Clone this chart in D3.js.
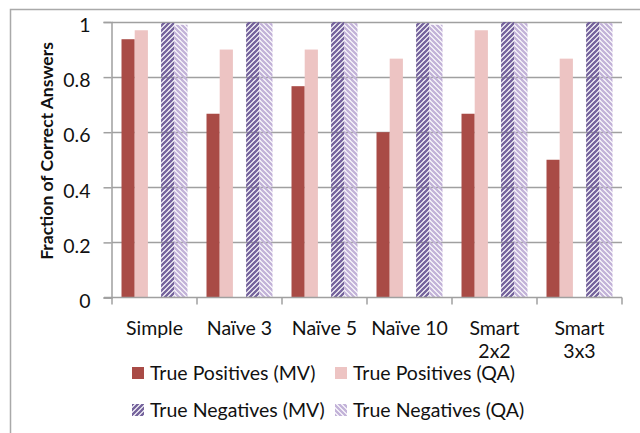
<!DOCTYPE html>
<html>
<head>
<meta charset="utf-8">
<script src="https://cdn.jsdelivr.net/npm/d3@7"></script>
<style>
  body { margin: 0; background: #fff; }
  svg text { font-family: Lato, "Open Sans", sans-serif; fill: #111; }
</style>
</head>
<body>
<div id="chart"></div>
<script>
// categories along x (\n = line break)
var categories = ["Simple", "Naïve 3", "Naïve 5", "Naïve 10", "Smart\n2x2", "Smart\n3x3"];

// series values
var tp_mv = [0.9375, 0.667, 0.767, 0.6, 0.667, 0.5];
var tp_qa = [0.97, 0.9, 0.9, 0.867, 0.97, 0.867];
var tn_mv = [0.997, 1, 1, 0.996, 1, 1];
var tn_qa = [0.99, 0.996, 0.996, 0.99, 0.996, 0.996];

var series_names = ["True Positives (MV)", "True Positives (QA)", "True Negatives (MV)", "True Negatives (QA)"];
var y_ticks = [0, 0.2, 0.4, 0.6, 0.8, 1];

var width = 640, height = 433;
var margin = {left: 112, right: 18, top: 22, bottom: 135};

var svg = d3.select('#chart')
  .append('svg')
  .attr('width', width)
  .attr('height', height);

//patterns for the negatives
var defs = svg.append('defs');
function hatch(id, color, dir) {
  var p = defs.append('pattern')
    .attr('id', id)
    .attr('patternUnits', 'userSpaceOnUse')
    .attr('width', 5)
    .attr('height', 5);
  var d = dir > 0
    ? 'M-1,1 l2,-2 M0,5 l5,-5 M4,6 l2,-2'
    : 'M-1,4 l2,2 M0,0 l5,5 M4,-1 l2,2';
  p.append('path')
    .attr('d', d)
    .attr('stroke', color)
    .attr('stroke-width', 2.3)
    .attr('shape-rendering', 'auto');
}
hatch('hatch_mv', '#74629c', 1);
hatch('hatch_qa', '#c2b2d8', -1);

var fills = ['#a94b46', '#edc4c3', 'url(#hatch_mv)', 'url(#hatch_qa)'];
var slots = ['tp_mv', 'tp_qa', 'gap', 'tn_mv', 'tn_qa'];
var keys = ['tp_mv', 'tp_qa', 'tn_mv', 'tn_qa'];
var values = {tp_mv: tp_mv, tp_qa: tp_qa, tn_mv: tn_mv, tn_qa: tn_qa};

//outer frame
svg.append('path')
  .attr('d', 'M10.5,' + height + ' V9.5 H' + width)
  .attr('fill', 'none')
  .attr('stroke', '#a9a9a9')
  .attr('stroke-width', 1.5);

var x0 = d3.scaleBand()
  .domain(categories)
  .range([margin.left, width - margin.right])
  .padding(0);

var x1 = d3.scaleBand()
  .domain(slots)
  .range([0, x0.bandwidth()])
  .paddingInner(0)
  .paddingOuter(0.72);

var y = d3.scaleLinear()
  .domain([0, 1])
  .range([height - margin.bottom - 0.5, margin.top]);

//gridlines
svg.append('g')
  .selectAll('line')
  .data(y_ticks.slice(1))
  .enter()
  .append('line')
  .attr('x1', margin.left)
  .attr('x2', width - margin.right)
  .attr('y1', function(d) { return Math.round(y(d)) + 0.5; })
  .attr('y2', function(d) { return Math.round(y(d)) + 0.5; })
  .attr('stroke', '#a0a0a0')
  .attr('stroke-width', 1.5);

//bars
var groups = svg.append('g')
  .selectAll('g')
  .data(categories)
  .enter()
  .append('g')
  .attr('transform', function(d) { return 'translate(' + x0(d) + ',0)'; });

groups.selectAll('rect')
  .data(function(d, i) {
    return keys.map(function(k, j) { return {key: k, value: values[k][i], fill: fills[j]}; });
  })
  .enter()
  .append('rect')
  .attr('x', function(d) { return x1(d.key); })
  .attr('width', x1.bandwidth())
  .attr('y', function(d) { return y(d.value); })
  .attr('height', function(d) { return y(0) - y(d.value); })
  .attr('fill', function(d) { return d.fill; });

//y axis
var yAxis = svg.append('g')
  .attr('transform', 'translate(' + (margin.left - 0.5) + ',0)')
  .call(d3.axisLeft(y).tickValues(y_ticks).tickSize(8).tickPadding(13)
    .tickFormat(function(d) { return d === 0 || d === 1 ? d : d3.format('.1f')(d); }));
yAxis.select('.domain').attr('stroke', '#a0a0a0').attr('stroke-width', 1.5);
yAxis.selectAll('.tick line').attr('stroke', '#a0a0a0').attr('stroke-width', 1.5);
yAxis.selectAll('.tick text')
  .style('font-size', '19.5px')
  .attr('dy', '0.5em');

//x axis
var xAxisY = y(0);
var xg = svg.append('g');
xg.append('line')
  .attr('x1', margin.left - 8)
  .attr('x2', width - margin.right)
  .attr('y1', xAxisY)
  .attr('y2', xAxisY)
  .attr('stroke', '#a0a0a0')
  .attr('stroke-width', 1.5);
xg.selectAll('.xtick')
  .data(categories.concat([null]))
  .enter()
  .append('line')
  .attr('x1', function(d, i) { return margin.left + i * x0.step(); })
  .attr('x2', function(d, i) { return margin.left + i * x0.step(); })
  .attr('y1', xAxisY)
  .attr('y2', xAxisY + 7)
  .attr('stroke', '#a0a0a0')
  .attr('stroke-width', 1.5);

var xl = xg.selectAll('.xlabel')
  .data(categories)
  .enter()
  .append('text')
  .attr('text-anchor', 'middle')
  .style('font-size', '19.5px')
  .attr('transform', function(d) { return 'translate(' + (x0(d) + x0.bandwidth() / 2) + ',' + (xAxisY + 37) + ')'; });
xl.selectAll('tspan')
  .data(function(d) { return d.split('\n'); })
  .enter()
  .append('tspan')
  .attr('x', 0)
  .attr('dy', function(d, i) { return i === 0 ? 0 : 23; })
  .text(function(d) { return d; });

//y title
svg.append('text')
  .attr('transform', 'translate(53,151) rotate(-90)')
  .attr('text-anchor', 'middle')
  .style('font-size', '17.5px')
  .style('font-weight', 'bold')
  .text('Fraction of Correct Answers');

//legend
var legend = svg.append('g')
  .selectAll('g')
  .data(series_names)
  .enter()
  .append('g')
  .attr('transform', function(d, i) {
    return 'translate(' + (i % 2 === 0 ? 132 : 335) + ',' + (i < 2 ? 373 : 410) + ')';
  });
legend.append('rect')
  .attr('x', 0)
  .attr('y', -6)
  .attr('width', 12)
  .attr('height', 12)
  .attr('fill', function(d, i) { return fills[i]; });
legend.append('text')
  .attr('x', 18)
  .attr('dy', '0.36em')
  .style('font-size', '19.5px')
  .text(function(d) { return d; });
</script>
</body>
</html>
